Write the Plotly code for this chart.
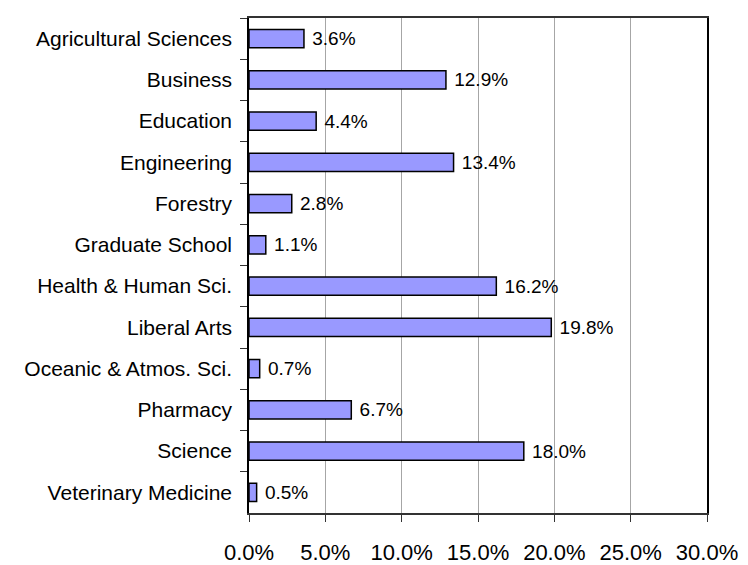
import plotly.graph_objects as go

colleges = ["Agricultural Sciences", "Business", "Education", "Engineering",
            "Forestry", "Graduate School", "Health & Human Sci.", "Liberal Arts",
            "Oceanic & Atmos. Sci.", "Pharmacy", "Science", "Veterinary Medicine"]
shares = [3.6, 12.9, 4.4, 13.4, 2.8, 1.1, 16.2, 19.8, 0.7, 6.7, 18.0, 0.5]

FONT = "Liberation Sans, Arial, sans-serif"

fig = go.Figure()
fig.add_trace(go.Bar(
    x=shares, y=colleges, orientation='h',
    marker=dict(color='#9999FF', line=dict(color='black', width=1.5)),
    width=0.44,
    text=[f"\u00a0{v:.1f}%" for v in shares],
    textposition='outside',
    constraintext='none',
    textfont=dict(family=FONT, size=19, color='black'),
    cliponaxis=False,
))

fig.update_layout(
    width=748, height=565,
    margin=dict(l=241, r=49, t=8, b=48),
    paper_bgcolor='white', plot_bgcolor='white',
    font=dict(family=FONT, size=21, color='black'),
    showlegend=False,
)
fig.update_xaxes(
    range=[0, 30], dtick=5, tickformat='.1f', ticksuffix='%',
    showgrid=True, gridcolor='#a6a6a6', gridwidth=1,
    showline=True, linecolor='#333333', linewidth=2, mirror=True,
    ticks='outside', ticklen=7, tickcolor='#333333',
    ticklabelstandoff=12,
    tickfont=dict(size=22),
    zeroline=False,
)
fig.update_yaxes(
    autorange='reversed',
    showline=True, linecolor='black', linewidth=1.5, mirror=True,
    ticks='outside', tickson='boundaries', ticklen=7, tickcolor='#333333',
    ticklabelstandoff=11,
    showgrid=False,
)

fig.write_html("out.html")
